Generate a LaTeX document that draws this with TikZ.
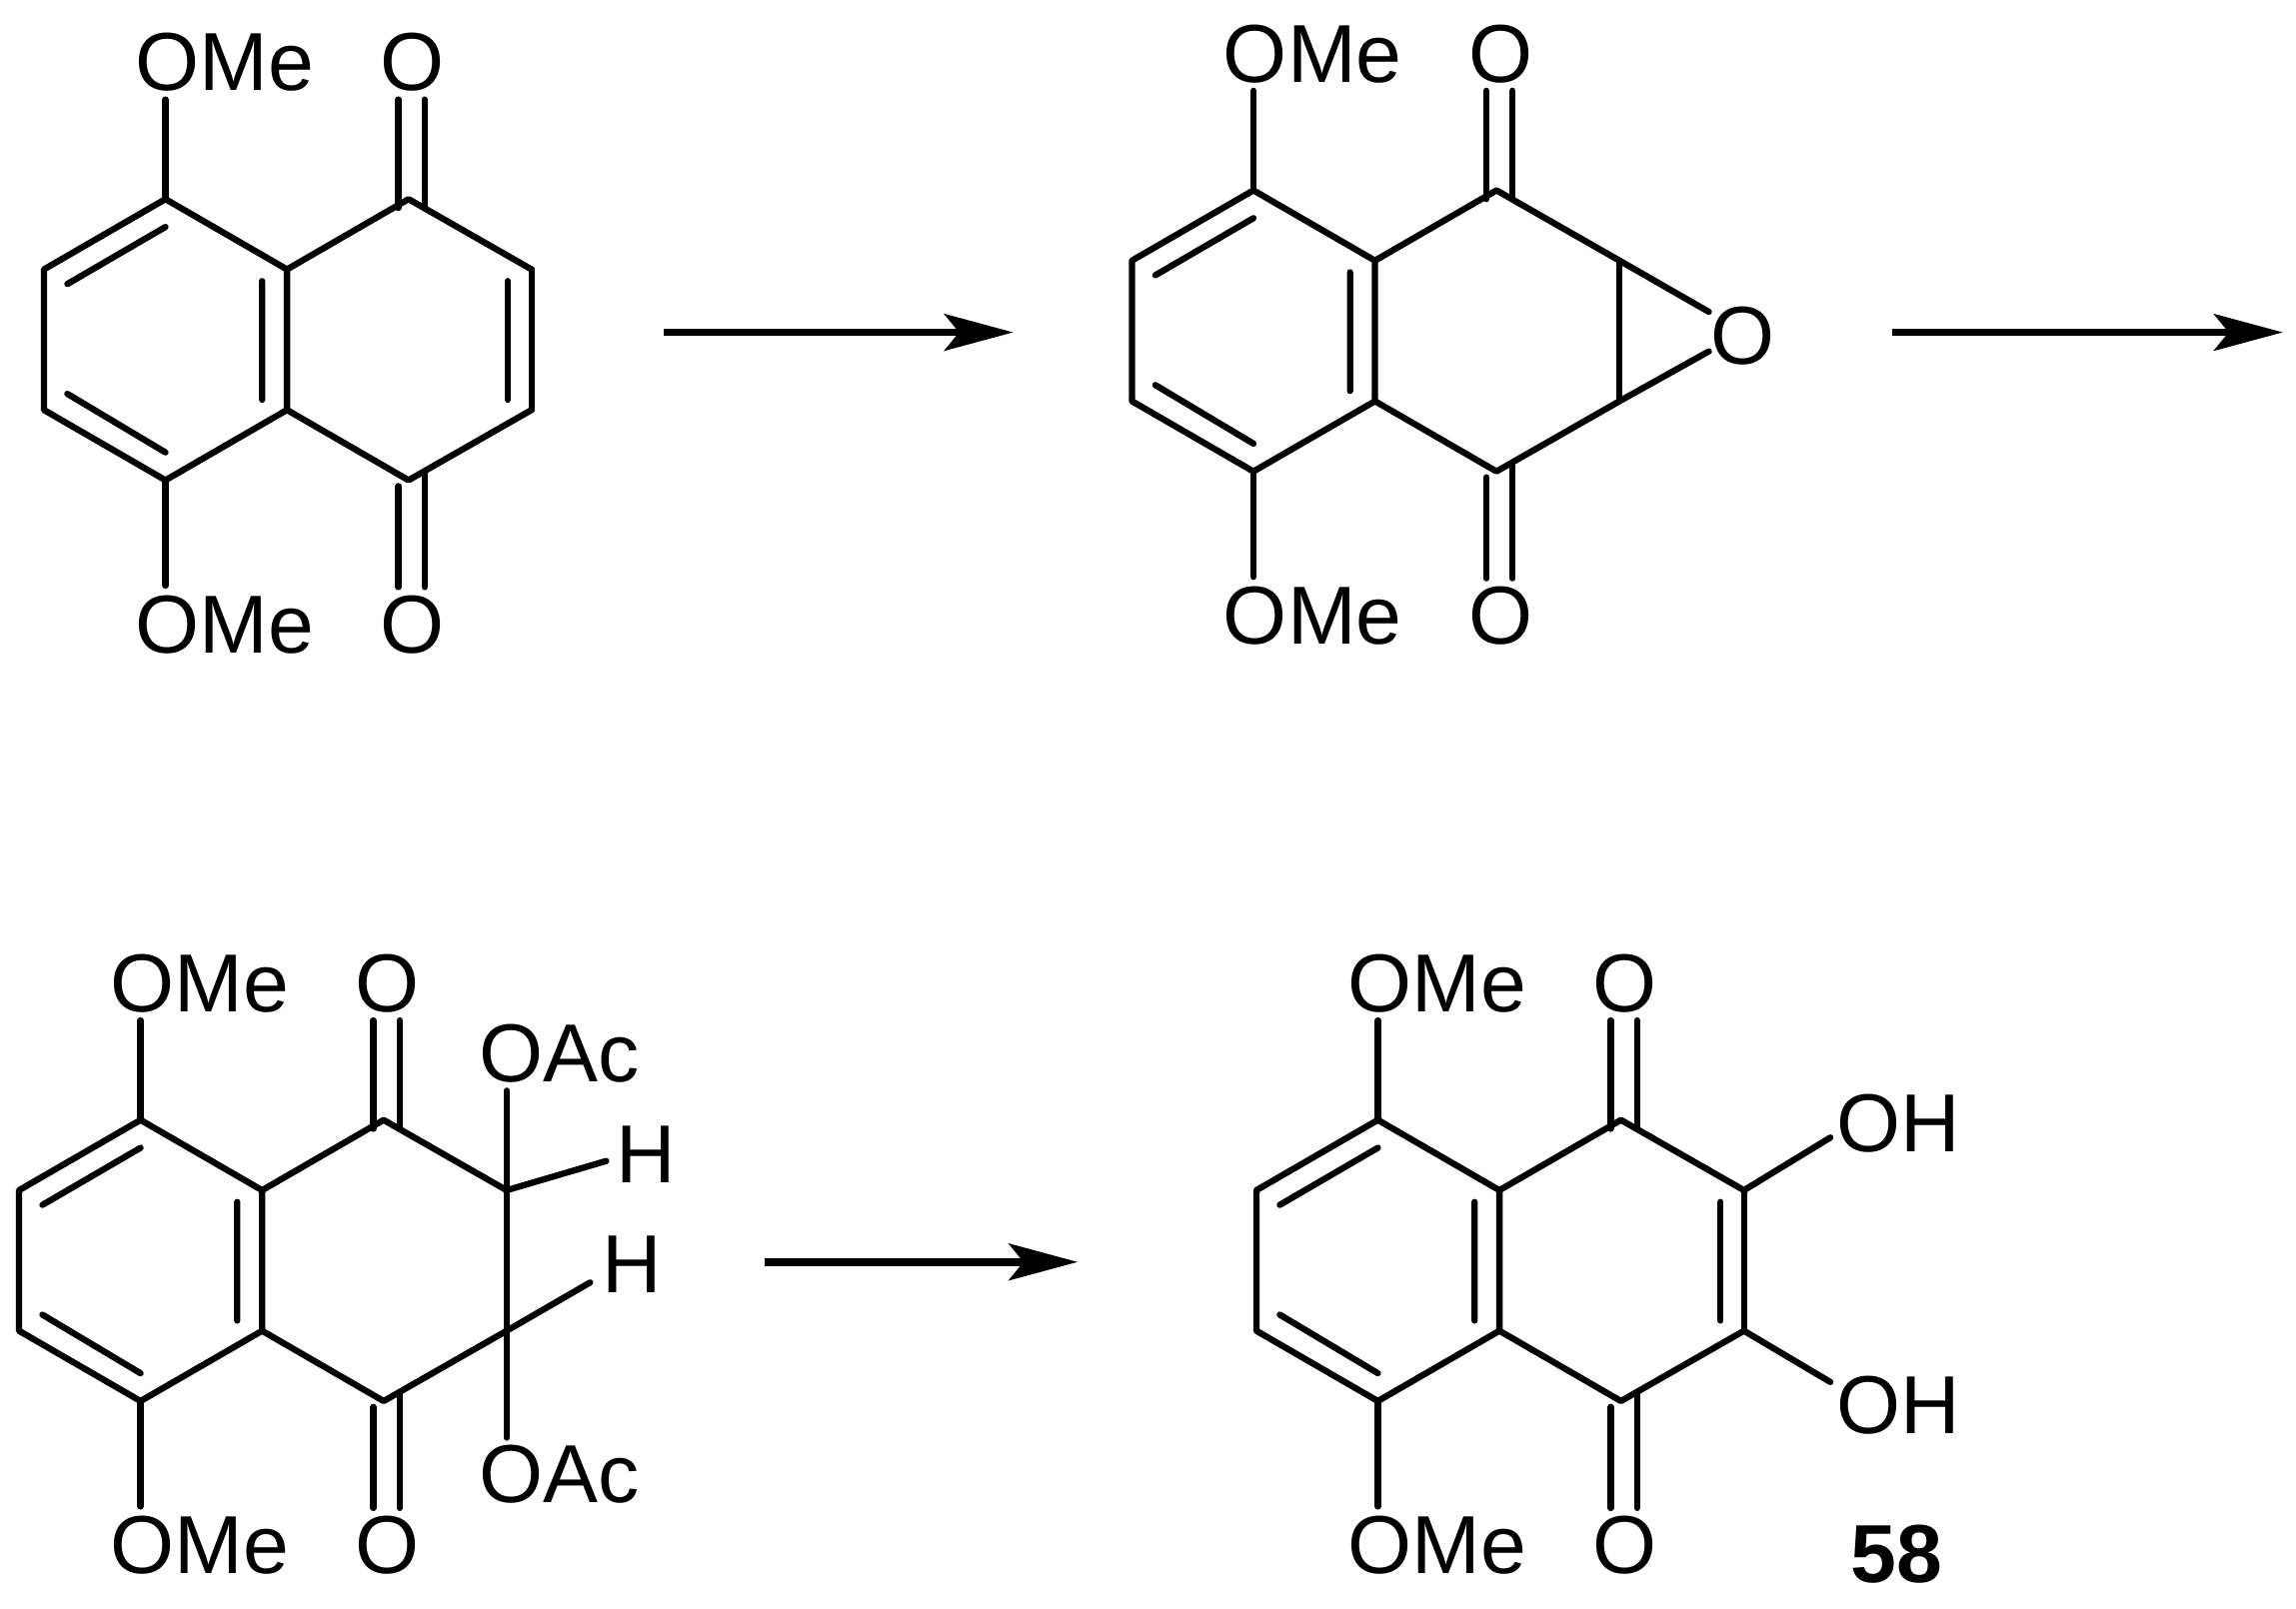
\documentclass[tikz,border=0pt]{standalone}
\usepackage{fontspec}
\setmainfont{Liberation Sans}
\usetikzlibrary{arrows.meta}
\tikzset{
  bond/.style={line width=0.086cm,line cap=round,line join=round,black},
  rxn/.style={line width=0.105cm,black,-{Stealth[length=0.94cm,width=0.5cm,inset=0.2cm]}},
  atomlabel/.style={anchor=base west,inner sep=0pt,outer sep=0pt,black,font=\fontsize{32}{36}\selectfont},
  cpdlabel/.style={anchor=base west,inner sep=0pt,outer sep=0pt,black,font=\fontsize{32}{36}\selectfont\bfseries}
}
% naphthalene-type core: #1 prefix, #2 dx, #3 dy, shared by all four structures
\newcommand{\corering}[3]{%
  \begin{scope}[shift={(#2,#3)}]
    \coordinate (#1a) at (113,136);
    \coordinate (#1b) at (196,184);
    \coordinate (#1c) at (196,280);
    \coordinate (#1d) at (113,328);
    \coordinate (#1e) at (30,280);
    \coordinate (#1f) at (30,184);
    \coordinate (#1g) at (279,136);
    \coordinate (#1h) at (363,184);
    \coordinate (#1i) at (363,280);
    \coordinate (#1j) at (279,328);
    \coordinate (#1p1) at (113,155);
    \coordinate (#1p2) at (46,194);
    \coordinate (#1p3) at (46,269);
    \coordinate (#1p4) at (113,309);
    \coordinate (#1p5) at (179,192);
    \coordinate (#1p6) at (179,273);
    \coordinate (#1me1) at (113,68);
    \coordinate (#1me2) at (113,400);
    \coordinate (#1o1) at (272,68);
    \coordinate (#1o2) at (272,142);
    \coordinate (#1o3) at (290,68);
    \coordinate (#1o4) at (290,142);
    \coordinate (#1o5) at (272,332);
    \coordinate (#1o6) at (272,401);
    \coordinate (#1o7) at (290,322);
    \coordinate (#1o8) at (290,401);
    \coordinate (#1q1) at (347,192);
    \coordinate (#1q2) at (347,273);
    \draw[bond] (#1a)--(#1b)--(#1c)--(#1d)--(#1e)--(#1f)--(#1a);
    \draw[bond] (#1b)--(#1g)--(#1h);
    \draw[bond] (#1c)--(#1j)--(#1i);
    \draw[bond] (#1p1)--(#1p2) (#1p3)--(#1p4) (#1p5)--(#1p6);
    \draw[bond] (#1a)--(#1me1) (#1d)--(#1me2);
    \draw[bond] (#1o1)--(#1o2) (#1o3)--(#1o4) (#1o5)--(#1o6) (#1o7)--(#1o8);
    \node[atomlabel] (#1tm) at (92.5,62) {OMe};
    \node[atomlabel] (#1to) at (260,62) {O};
    \node[atomlabel] (#1bm) at (92.5,446) {OMe};
    \node[atomlabel] (#1bo) at (260,446) {O};
  \end{scope}}
\begin{document}
\begin{tikzpicture}[x=0.02cm,y=-0.02cm]
\useasboundingbox (0,0) rectangle (1568,1099);
% structure 1
\corering{A}{0}{0}
\draw[bond] (Ah)--(Ai) (Aq1)--(Aq2);
% structure 2
\corering{B}{743}{-6}
\draw[bond] (Bh)--(Bi);
\node[atomlabel] (Bep) at (1168,249) {O};
\coordinate (Bep1) at (1167,213);
\coordinate (Bep2) at (1167,240);
\draw[bond] (Bh)--(Bep1) (Bi)--(Bep2);
% structure 3
\corering{C}{-17}{629}
\coordinate (Cx1) at (346,745);
\coordinate (Cx2) at (346,982);
\coordinate (Cx3) at (414,793);
\coordinate (Cx4) at (403,876);
\draw[bond] (Cx1)--(Cx2);
\draw[bond] (Ch)--(Cx3) (Ci)--(Cx4);
\node[atomlabel] (Cac1) at (327,739) {OAc};
\node[atomlabel] (Cac2) at (327,1026) {OAc};
\node[atomlabel] (Ch1) at (420.5,808) {H};
\node[atomlabel] (Ch2) at (411.5,883) {H};
% structure 4
\corering{D}{828}{629}
\draw[bond] (Dh)--(Di) (Dq1)--(Dq2);
\coordinate (Doh1) at (1250,777);
\coordinate (Doh2) at (1250,944);
\draw[bond] (Dh)--(Doh1) (Di)--(Doh2);
\node[atomlabel] (Dl1) at (1254,787) {OH};
\node[atomlabel] (Dl2) at (1254,979) {OH};
\node[cpdlabel] (Dnum) at (1264,1081) {58};
% reaction arrows
\coordinate (r1a) at (453,227);
\coordinate (r1b) at (692,227);
\coordinate (r2a) at (1292,227);
\coordinate (r2b) at (1559,227);
\coordinate (r3a) at (522,862);
\coordinate (r3b) at (736,862);
\draw[rxn] (r1a)--(r1b);
\draw[rxn] (r2a)--(r2b);
\draw[rxn] (r3a)--(r3b);
\end{tikzpicture}
\end{document}
